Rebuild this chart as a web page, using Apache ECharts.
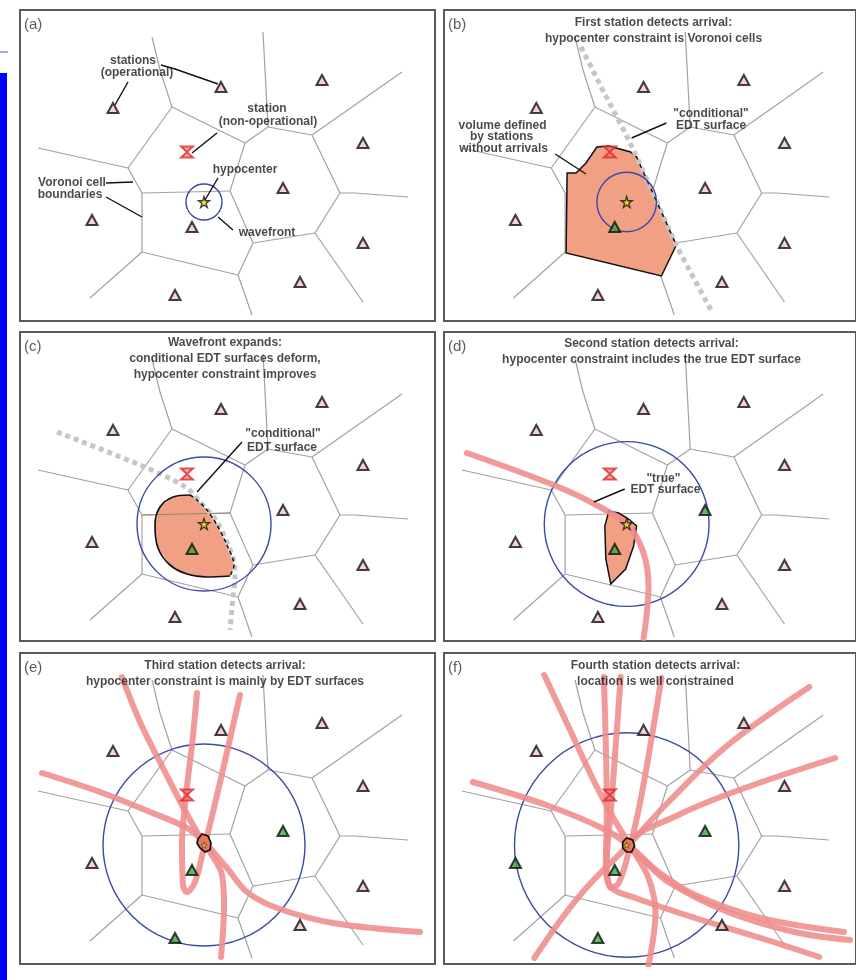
<!DOCTYPE html>
<html>
<head>
<meta charset="utf-8">
<script src="https://cdn.jsdelivr.net/npm/echarts@6/dist/echarts.min.js"></script>
<style>
  html, body { margin: 0; padding: 0; background: #fff; }
  #chart { width: 856px; height: 980px; }
</style>
</head>
<body>
<div id="chart"></div>
<script>
// ---- network geometry (local map frame, y pointing down) ----
const stations = [[201,77],[302,70],[93,98],[343,133],[263,178],[172,217],[72,210],[343,233],[280,272],[155,285]];
const deadStation = [167,142];
const hypocenter = [184,192];
// wavefront radius at each stage (a)..(f)
const wavefrontRadius = [18,30,67,83,101,113];
// stations that have picked an arrival at each stage
const arrivedStations = [[],[5],[5],[5,4],[5,4,9],[5,4,9,6]];

const voronoiEdges = [
  [[132,27],[140,60],[152,97]],
  [[152,97],[225,133]],
  [[152,97],[108,158]],
  [[18,138],[108,158]],
  [[108,158],[122,183]],
  [[122,183],[210,181]],
  [[122,183],[122,242]],
  [[122,242],[218,265]],
  [[122,242],[70,288]],
  [[218,265],[232,305]],
  [[218,265],[233,233]],
  [[233,233],[210,181]],
  [[210,181],[225,133]],
  [[225,133],[248,117]],
  [[248,117],[243,22]],
  [[248,117],[292,125]],
  [[292,125],[382,62]],
  [[292,125],[320,183]],
  [[320,183],[335,183],[388,187]],
  [[320,183],[295,223]],
  [[295,223],[233,233]],
  [[295,223],[343,292]]
];

// conditional EDT surfaces (grey) for stages (b) and (c)
const conditionalB = [[138,37],[162,84],[186,130],[210,182],[234,235],[269,300]];
const conditionalC = [[37,100],[127,136],[167,156],[180,170],[197,190],[213,226],[215,246],[213,266],[210,298]];

// hypocenter constraint volumes
const volumeB = [[124,163],[133,163],[143,153],[154,137],[166,136],[188,142],[194,147],[199,158],[234,235],[219,266],[123,243]];
const volumeC = [[170,163],[153,165],[140,175],[135,193],[138,216],[150,233],[167,242],[187,245],[210,244],[214,233],[207,213],[197,193],[187,178],[177,168]];
const volumeCSolid = [[170,163],[153,165],[140,175],[135,193],[138,216],[150,233],[167,242],[187,245],[210,244]];
const volumeCDashed = [[170,163],[177,168],[187,178],[197,193],[207,213],[214,233],[210,244]];
const volumeD = [[166,179],[176,181],[186,187],[194,194],[191,214],[183,237],[168,252],[163,227],[162,194]];
const volumeE = [[178,186],[182,181],[188,183],[191,190],[190,197],[185,199],[180,195],[177,190]];
const volumeF = [[180,189],[184,185],[190,187],[192,193],[189,199],[184,199],[180,195]];

// true EDT surfaces
const edtD = [
  [[23,121],[113,154],[159,176],[186,194],[201,221],[206,254],[204,284],[201,306]]
];
const edtE = [
  [[22,120],[80,139],[130,159],[167,175],[187,192],[207,215],[227,239],[257,255],[313,270],[400,279]],
  [[102,24],[120,69],[143,115],[162,152],[177,179],[190,199],[202,222],[204,252],[201,304]],
  [[177,40],[172,92],[166,142],[162,192],[163,232],[167,239],[175,229],[183,199],[193,159],[207,99],[220,42]]
];
const edtF = [
  [[29,129],[103,152],[159,175],[186,192],[216,219],[253,242],[319,265],[403,279]],
  [[101,22],[126,75],[153,132],[173,169],[189,195],[206,225],[213,259],[206,312]],
  [[178,24],[173,92],[168,159],[164,209],[168,235],[176,230],[186,199],[199,142],[219,25]],
  [[161,24],[163,92],[164,159],[163,209],[168,234],[193,245],[253,265],[319,285],[378,304]],
  [[368,34],[286,92],[226,149],[186,192],[146,232],[119,265],[91,305]],
  [[394,105],[303,135],[236,162],[186,192],[199,205],[226,229],[286,259],[353,279],[409,287]]
];

const panelLabels = ['(a)','(b)','(c)','(d)','(e)','(f)'];
const panelTitles = [
  [],
  ['First station detects arrival:', 'hypocenter constraint is Voronoi cells'],
  ['Wavefront expands:', 'conditional EDT surfaces deform,', 'hypocenter constraint improves'],
  ['Second station detects arrival:', 'hypocenter constraint includes the true EDT surface'],
  ['Third station detects arrival:', 'hypocenter constraint is mainly by EDT surfaces'],
  ['Fourth station detects arrival:', 'location is well constrained']
];

// ---- layout ----
const gridBoxes = [[20,10,415,311],[444,10,415,311],[20,332,415,309],[444,332,415,309],[20,653,415,311],[444,653,415,311]];
const titleAnchor = [[0,0],[211,13],[205,11],[209,12],[205,13],[213,13]];

// callout text: [x, y, text] per panel
const callouts = [
  [[113,51,'stations'],[117,63,'(operational)'],[247,99,'station'],[248,112,'(non-operational)'],
   [225,160,'hypocenter'],[52,173,'Voronoi cell'],[50,185,'boundaries'],[247,223,'wavefront']],
  [[59,116,'volume defined'],[58,127,'by stations'],[60,139,'without arrivals'],
   [269,104,'"conditional"'],[269,116,'EDT surface']],
  [[263,102,'"conditional"'],[262,116,'EDT surface']],
  [[221,147,'"true"'],[223,158,'EDT surface']],
  [],
  []
];
const leaders = [
  [[[141,55],[155,59],[198,74]], [[108,72],[95,95]], [[197,123],[172,143]], [[198,168],[185,190]],
   [[86,173],[113,172]], [[86,187],[122,207]], [[198,207],[213,220]]],
  [[[112,144],[143,164]], [[224,113],[189,128]]],
  [[[222,110],[177,160]]],
  [[[182,157],[151,170]]],
  [],
  []
];

const FONT = '"Liberation Sans", Arial, Helvetica, sans-serif';
const PINK = '#f6c8c6';
const GREEN = '#3aaa3a';
const EDT_COLOR = 'rgba(239,140,140,0.88)';
const ORANGE = '#f2a083';

const starPath = 'path://M50,0 L61,35 L98,35 L68,57 L79,91 L50,70 L21,91 L32,57 L2,35 L39,35 Z';
const deadPath = 'path://M0,0 L10,0 L0,10 L10,10 Z';

const grid = [], xAxis = [], yAxis = [], series = [];

function polygonSeries(p, pts, style, z) {
  return {
    type: 'custom', xAxisIndex: p, yAxisIndex: p, silent: true, z: z,
    data: [[pts[0][0], pts[0][1]]],
    renderItem: function (params, api) {
      return { type: 'polygon', shape: { points: pts.map(function (pt) { return api.coord(pt); }) }, style: style };
    }
  };
}
function curveSeries(p, pts, lineStyle, z, smooth) {
  return {
    type: 'line', xAxisIndex: p, yAxisIndex: p, silent: true, z: z,
    data: pts, symbol: 'none', smooth: smooth, lineStyle: lineStyle, clip: true, animation: false
  };
}

for (let p = 0; p < 6; p++) {
  const b = gridBoxes[p];
  grid.push({ left: b[0], top: b[1], width: b[2], height: b[3], show: true,
              borderColor: '#5a5a5a', borderWidth: 2, backgroundColor: '#fff', containLabel: false });
  xAxis.push({ type: 'value', gridIndex: p, min: 0, max: b[2], show: false });
  yAxis.push({ type: 'value', gridIndex: p, min: 0, max: b[3], inverse: true, show: false });

  // Voronoi cell boundaries
  series.push({
    type: 'lines', coordinateSystem: 'cartesian2d', xAxisIndex: p, yAxisIndex: p, polyline: true, silent: true, z: 1,
    data: voronoiEdges.map(function (e) { return { coords: e }; }),
    lineStyle: { color: '#a2a2a2', width: 1.2, opacity: 1 }
  });

  // constraint volumes
  if (p === 1) series.push(polygonSeries(p, volumeB, { fill: ORANGE, stroke: '#111', lineWidth: 1.5 }, 2));
  if (p === 2) {
    series.push(polygonSeries(p, volumeC, { fill: ORANGE, stroke: null }, 2));
    series.push({
      type: 'lines', coordinateSystem: 'cartesian2d', xAxisIndex: p, yAxisIndex: p, polyline: true, silent: true, z: 2,
      data: [{ coords: [[122,183],[210,181]] }], lineStyle: { color: '#a08070', width: 1, opacity: 1 }
    });
    series.push(curveSeries(p, volumeCSolid, { color: '#111', width: 1.7 }, 3, 0.3));
  }
  if (p === 3) series.push(polygonSeries(p, volumeD, { fill: ORANGE, stroke: '#111', lineWidth: 1.5 }, 2));

  // conditional EDT surfaces
  if (p === 1) series.push(curveSeries(p, conditionalB, { color: '#c6c6c6', width: 5, type: [5, 4], cap: 'butt' }, 3, 0.3));
  if (p === 2) {
    series.push(curveSeries(p, conditionalC, { color: '#c6c6c6', width: 5, type: [5, 4], cap: 'butt' }, 3, 0.3));
    series.push(curveSeries(p, volumeCDashed, { color: '#111', width: 1.5, type: [4, 3] }, 4, 0.3));
  }

  // wavefront
  series.push({
    type: 'custom', xAxisIndex: p, yAxisIndex: p, silent: true, z: 5,
    data: [[hypocenter[0], hypocenter[1], wavefrontRadius[p]]],
    renderItem: function (params, api) {
      const c = api.coord([api.value(0), api.value(1)]);
      const r = api.size([api.value(2), 0])[0];
      return { type: 'circle', shape: { cx: c[0], cy: c[1], r: r },
               style: { fill: 'none', stroke: '#3b49a8', lineWidth: 1.4 } };
    }
  });

  // true EDT surfaces
  const edt = p === 3 ? edtD : p === 4 ? edtE : p === 5 ? edtF : [];
  edt.forEach(function (c) {
    series.push(curveSeries(p, c, { color: EDT_COLOR, width: 6, cap: 'round', join: 'round' }, 6, 0.35));
  });

  // stations
  const arrived = arrivedStations[p];
  series.push({
    type: 'scatter', xAxisIndex: p, yAxisIndex: p, silent: true, z: 8,
    symbol: 'triangle', symbolSize: [11, 10],
    data: stations.map(function (s, i) {
      return { value: s, itemStyle: { color: arrived.indexOf(i) >= 0 ? GREEN : PINK } };
    }),
    itemStyle: { borderColor: '#111', borderWidth: 2 }
  });
  series.push({
    type: 'scatter', xAxisIndex: p, yAxisIndex: p, silent: true, z: 8,
    symbol: deadPath, symbolSize: [12, 11],
    data: [deadStation],
    itemStyle: { color: 'rgba(240,110,110,0.7)', borderColor: '#e02a2a', borderWidth: 2 }
  });

  // hypocenter
  if (p === 4) series.push(polygonSeries(p, volumeE, { fill: '#e8785c', stroke: '#111', lineWidth: 1.7 }, 9));
  if (p === 5) series.push(polygonSeries(p, volumeF, { fill: '#e8785c', stroke: '#111', lineWidth: 1.7 }, 9));
  series.push({
    type: 'scatter', xAxisIndex: p, yAxisIndex: p, silent: true, z: 10,
    symbol: starPath, symbolSize: p >= 4 ? 6 : 11,
    data: [hypocenter],
    itemStyle: { color: '#f3e21a', borderColor: '#111', borderWidth: p >= 4 ? 0.5 : 1.3 }
  });

  // leader lines
  if (leaders[p].length) {
    series.push({
      type: 'lines', coordinateSystem: 'cartesian2d', xAxisIndex: p, yAxisIndex: p, polyline: true, silent: true, z: 11,
      data: leaders[p].map(function (l) { return { coords: l }; }),
      lineStyle: { color: '#111', width: 1.4, opacity: 1 }
    });
  }

  // text: panel letter, title, callouts
  const texts = [];
  panelTitles[p].forEach(function (t, i) {
    texts.push({ value: [titleAnchor[p][0], titleAnchor[p][1] + 16 * i], name: t });
  });
  callouts[p].forEach(function (c) { texts.push({ value: [c[0], c[1]], name: c[2] }); });
  series.push({
    type: 'scatter', xAxisIndex: p, yAxisIndex: p, silent: true, z: 12, symbolSize: 0,
    data: texts,
    label: { show: true, position: 'inside', formatter: '{b}', fontFamily: FONT, fontSize: 12,
             fontWeight: 'bold', color: '#1c1c1c', align: 'center', verticalAlign: 'middle' }
  });
  series.push({
    type: 'scatter', xAxisIndex: p, yAxisIndex: p, silent: true, z: 12, symbolSize: 0,
    data: [{ value: [4, 15], name: panelLabels[p] }],
    label: { show: true, position: 'inside', formatter: '{b}', fontFamily: FONT, fontSize: 15,
             color: '#333', align: 'left', verticalAlign: 'middle' }
  });
}

const chart = echarts.init(document.getElementById('chart'), null, { renderer: 'canvas' });
chart.setOption({
  backgroundColor: '#ffffff',
  animation: false,
  grid: grid,
  xAxis: xAxis,
  yAxis: yAxis,
  series: series,
  graphic: [
    { type: 'rect', shape: { x: 0, y: 73, width: 7, height: 907 }, style: { fill: '#0000ff' }, silent: true },
    { type: 'line', shape: { x1: 0, y1: 52, x2: 8, y2: 52 }, style: { stroke: '#8090d8', lineWidth: 1.5 }, silent: true }
  ]
});
</script>
</body>
</html>
